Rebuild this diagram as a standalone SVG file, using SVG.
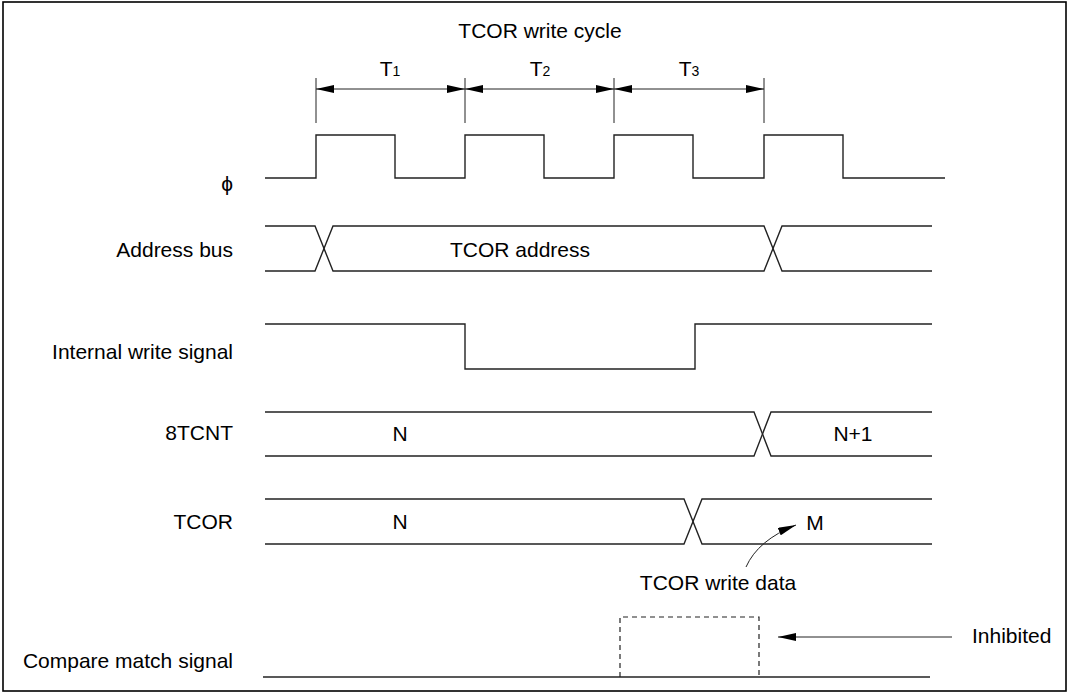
<svg xmlns="http://www.w3.org/2000/svg" width="1075" height="695" viewBox="0 0 1075 695">
<style>
text{font-family:"Liberation Sans",Arial,sans-serif;font-size:21px;fill:#000}
.lbl{text-anchor:end}
.mid{text-anchor:middle}
.sig{fill:none;stroke:#222;stroke-width:1.4}
.thin{fill:none;stroke:#222;stroke-width:1}
.dash{fill:none;stroke:#222;stroke-width:1.2;stroke-dasharray:5,4}
</style>
<defs>
<marker id="ah" viewBox="0 0 18 8" refX="18" refY="4" markerWidth="18" markerHeight="8" markerUnits="userSpaceOnUse" orient="auto-start-reverse">
<path d="M0,0 L18,4 L0,8 Z" fill="#000"/>
</marker>
</defs>
<rect x="3" y="2" width="1063" height="689" fill="#fff" stroke="#000" stroke-width="1.6"/>
<g id="title"><text class="mid" x="540" y="38" font-size="20">TCOR write cycle</text></g>
<g id="labels">
<text class="lbl" x="233" y="191">ϕ</text>
<text class="lbl" x="233" y="257">Address bus</text>
<text class="lbl" x="233" y="359">Internal write signal</text>
<text class="lbl" x="233" y="440">8TCNT</text>
<text class="lbl" x="233" y="529">TCOR</text>
<text class="lbl" x="233" y="668">Compare match signal</text>
</g>
<g id="cycles">
<text class="mid" x="390" y="76" font-size="19">T<tspan font-size="14">1</tspan></text>
<text class="mid" x="540" y="76" font-size="19">T<tspan font-size="14">2</tspan></text>
<text class="mid" x="689" y="76" font-size="19">T<tspan font-size="14">3</tspan></text>
</g>
<g id="connectors">
<path class="thin" d="M316,78V123M465,78V123M614,78V123M764,78V123"/>
<line class="thin" x1="316" y1="89" x2="465" y2="89" marker-start="url(#ah)" marker-end="url(#ah)"/>
<line class="thin" x1="465" y1="89" x2="614" y2="89" marker-start="url(#ah)" marker-end="url(#ah)"/>
<line class="thin" x1="614" y1="89" x2="764" y2="89" marker-start="url(#ah)" marker-end="url(#ah)"/>
<path class="thin" d="M746,567 Q758,540 796,525" marker-end="url(#ah)"/>
<line class="thin" x1="952" y1="637" x2="778" y2="637" marker-end="url(#ah)"/>
</g>
<g id="clock"><path class="sig" d="M265,178H316V135H395V178H465V135H544V178H614V135H693V178H764V135H843V178H945"/></g>
<g id="address-bus">
<path class="sig" d="M265,226H315L333,271H764L782,226H932"/>
<path class="sig" d="M265,271H315L333,226H764L782,271H932"/>
<text class="mid" x="520" y="257">TCOR address</text>
</g>
<g id="write-signal"><path class="sig" d="M265,324H465V369H695V324H932"/></g>
<g id="tcnt">
<path class="sig" d="M265,412H754L771,456H932"/>
<path class="sig" d="M265,456H754L771,412H932"/>
<text class="mid" x="400" y="441">N</text>
<text class="mid" x="853" y="441">N+1</text>
</g>
<g id="tcor">
<path class="sig" d="M265,499H684L702,544H932"/>
<path class="sig" d="M265,544H684L702,499H932"/>
<text class="mid" x="400" y="529">N</text>
<text class="mid" x="815" y="530">M</text>
<text class="mid" x="718" y="590">TCOR write data</text>
</g>
<g id="compare">
<path class="sig" d="M263,677H930"/>
<path class="dash" d="M620,677V617H759V677"/>
<text x="972" y="643">Inhibited</text>
</g>
</svg>
